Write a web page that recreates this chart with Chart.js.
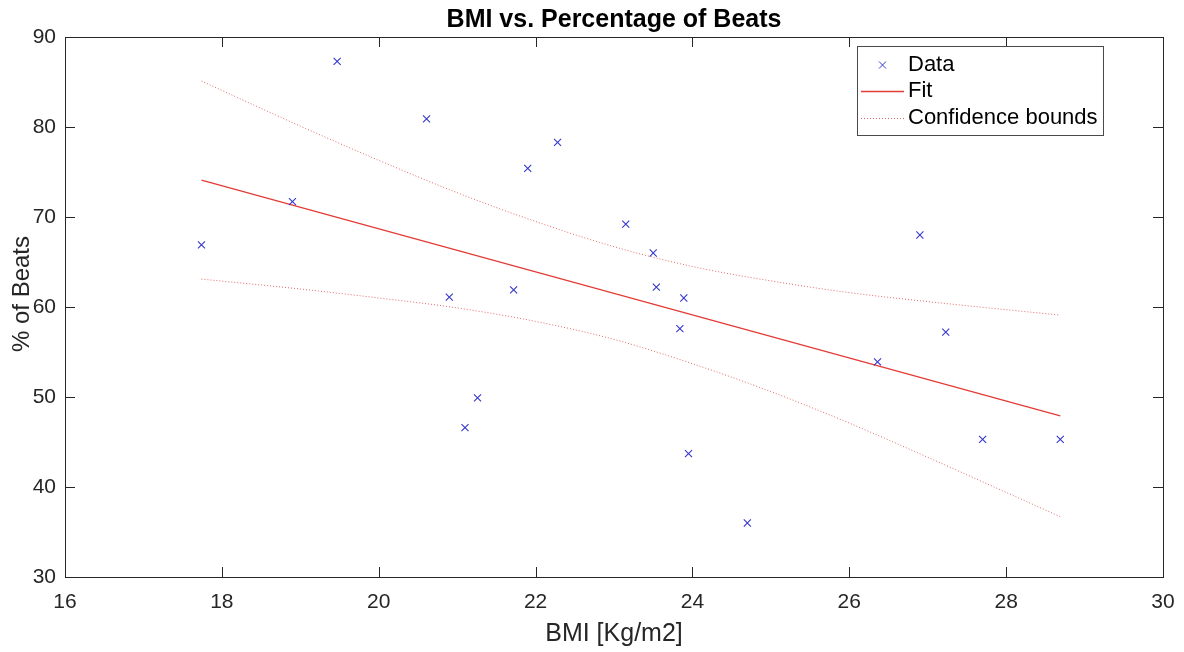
<!DOCTYPE html>
<html>
<head>
<meta charset="utf-8">
<title>BMI vs. Percentage of Beats</title>
<script src="https://cdn.jsdelivr.net/npm/chart.js@4.4.1/dist/chart.umd.min.js"></script>
<style>
  html, body { margin: 0; padding: 0; background: #ffffff; }
  #wrap { width: 1184px; height: 652px; }
</style>
</head>
<body>
<div id="wrap"><canvas id="bmiChart" width="1184" height="652"></canvas></div>
<script>
// measured samples
const bmi   = [17.74, 18.90, 19.47, 20.61, 20.90, 21.10, 21.26, 21.72, 21.90, 22.28, 23.15,
               23.50, 23.54, 23.84, 23.89, 23.95, 24.70, 26.36, 26.90, 27.23, 27.70, 28.69];
const beats = [66.9, 71.7, 87.3, 80.9, 61.1, 46.6, 49.9, 61.9, 75.4, 78.3, 69.2,
               66.0, 62.2, 57.6, 61.0, 43.7, 36.0, 53.9, 68.0, 57.2, 45.3, 45.3];

// linear fit end points
const fitX = [17.74, 28.69];
const fitY = [74.1, 47.9];

// confidence bounds around the fit
const boundX     = [17.74, 19, 20, 21, 22, 23, 24, 25, 26, 27, 28, 28.69];
const upperBound = [85.1, 80.1, 76.3, 72.7, 69.5, 66.7, 64.5, 62.9, 61.6, 60.6, 59.7, 59.1];
const lowerBound = [63.1, 62.0, 61.0, 59.9, 58.4, 56.4, 53.7, 50.6, 47.1, 43.3, 39.4, 36.7];

// axis ticks
const xTicks = [16, 18, 20, 22, 24, 26, 28, 30];
const yTicks = [30, 40, 50, 60, 70, 80, 90];

const FONT = "'Liberation Sans', Arial, Helvetica, sans-serif";
const AXIS_COLOR = '#262626';
const DATA_COLOR = '#3636d0';
const FIT_COLOR = '#e33b36';
const BOUND_COLOR = '#e06a66';
const Y_LABEL = '% of Beats';

function toPoints(xs, ys) {
  return xs.map(function (x, i) { return { x: x, y: ys[i] }; });
}

// box around the axes with inward tick marks on all four sides
const axesBox = {
  id: 'axesBox',
  afterDatasetsDraw(chart) {
    const ctx = chart.ctx;
    const a = chart.chartArea;
    const xs = chart.scales.x, ys = chart.scales.y;
    const len = 10;
    ctx.save();
    ctx.strokeStyle = AXIS_COLOR;
    ctx.lineWidth = 1;
    ctx.strokeRect(Math.round(a.left) + 0.5, Math.round(a.top) + 0.5,
                   Math.round(a.right - a.left), Math.round(a.bottom - a.top));
    ctx.beginPath();
    xTicks.forEach(function (v) {
      const px = Math.round(xs.getPixelForValue(v)) + 0.5;
      ctx.moveTo(px, a.bottom); ctx.lineTo(px, a.bottom - len);
      ctx.moveTo(px, a.top); ctx.lineTo(px, a.top + len);
    });
    yTicks.forEach(function (v) {
      const py = Math.round(ys.getPixelForValue(v)) + 0.5;
      ctx.moveTo(a.left, py); ctx.lineTo(a.left + len, py);
      ctx.moveTo(a.right, py); ctx.lineTo(a.right - len, py);
    });
    ctx.stroke();

    // y axis label, rotated, sitting a little above the axis middle
    ctx.fillStyle = AXIS_COLOR;
    ctx.font = '24px ' + FONT;
    ctx.textAlign = 'center';
    ctx.textBaseline = 'middle';
    ctx.translate(22, (a.top + a.bottom) / 2 - 13);
    ctx.rotate(-Math.PI / 2);
    ctx.fillText(Y_LABEL, 0, 0);
    ctx.restore();
  }
};

// legend box in the upper right corner
const legendBox = {
  id: 'legendBox',
  afterDraw(chart) {
    const ctx = chart.ctx;
    const a = chart.chartArea;
    const w = 246, h = 89;
    const bx = a.right - 60 - w, by = a.top + 9;
    const sampleL = bx + 4, sampleR = bx + 47, textX = bx + 51;
    const rows = [by + 19, by + 45, by + 72];
    const sets = chart.data.datasets;

    ctx.save();
    ctx.fillStyle = '#ffffff';
    ctx.fillRect(bx, by, w, h);
    ctx.strokeStyle = '#4a4a4a';
    ctx.lineWidth = 1;
    ctx.strokeRect(bx + 0.5, by + 0.5, w, h);

    // marker sample
    const mx = (sampleL + sampleR) / 2, r = 3.5;
    ctx.strokeStyle = sets[0].borderColor;
    ctx.beginPath();
    ctx.moveTo(mx - r, rows[0] - r); ctx.lineTo(mx + r, rows[0] + r);
    ctx.moveTo(mx - r, rows[0] + r); ctx.lineTo(mx + r, rows[0] - r);
    ctx.stroke();

    // fit line sample
    ctx.strokeStyle = sets[1].borderColor;
    ctx.lineWidth = sets[1].borderWidth;
    ctx.beginPath();
    ctx.moveTo(sampleL, rows[1] + 0.5); ctx.lineTo(sampleR, rows[1] + 0.5);
    ctx.stroke();

    // bounds sample
    ctx.strokeStyle = sets[2].borderColor;
    ctx.lineWidth = sets[2].borderWidth;
    ctx.setLineDash(sets[2].borderDash);
    ctx.beginPath();
    ctx.moveTo(sampleL, rows[2] + 0.5); ctx.lineTo(sampleR, rows[2] + 0.5);
    ctx.stroke();
    ctx.setLineDash([]);

    ctx.fillStyle = '#000000';
    ctx.font = '22px ' + FONT;
    ctx.textAlign = 'left';
    ctx.textBaseline = 'middle';
    ctx.fillText(sets[0].label, textX, rows[0]);
    ctx.fillText(sets[1].label, textX, rows[1]);
    ctx.fillText(sets[2].label, textX, rows[2]);
    ctx.restore();
  }
};

const chart = new Chart(document.getElementById('bmiChart'), {
  type: 'scatter',
  data: {
    datasets: [
      {
        label: 'Data',
        data: toPoints(bmi, beats),
        showLine: false,
        pointStyle: 'crossRot',
        pointRadius: 5,
        pointBorderWidth: 1.1,
        borderColor: DATA_COLOR,
        backgroundColor: DATA_COLOR
      },
      {
        label: 'Fit',
        data: toPoints(fitX, fitY),
        showLine: true,
        pointRadius: 0,
        borderColor: FIT_COLOR,
        borderWidth: 1.3
      },
      {
        label: 'Confidence bounds',
        data: toPoints(boundX, upperBound),
        showLine: true,
        pointRadius: 0,
        borderColor: BOUND_COLOR,
        borderWidth: 1,
        borderDash: [1, 2],
        cubicInterpolationMode: 'monotone'
      },
      {
        label: 'Confidence bounds (lower)',
        data: toPoints(boundX, lowerBound),
        showLine: true,
        pointRadius: 0,
        borderColor: BOUND_COLOR,
        borderWidth: 1,
        borderDash: [1, 2],
        cubicInterpolationMode: 'monotone'
      }
    ]
  },
  options: {
    responsive: false,
    animation: false,
    devicePixelRatio: 1,
    layout: { padding: { top: 0, right: 21, bottom: 0, left: 0 } },
    plugins: {
      legend: { display: false },
      tooltip: { enabled: false },
      title: {
        display: true,
        text: 'BMI vs. Percentage of Beats',
        fullSize: false,
        color: '#000000',
        font: { family: FONT, size: 25, weight: 'bold' },
        padding: { top: 5, bottom: 2 }
      }
    },
    scales: {
      x: {
        type: 'linear',
        min: 16,
        max: 30,
        afterFit: function (s) {
          s.height = 75;
          s.paddingLeft = 0;
          s.paddingRight = 0;
        },
        grid: { display: false, drawTicks: false },
        border: { display: false },
        ticks: {
          stepSize: 2,
          padding: 13,
          color: AXIS_COLOR,
          font: { family: FONT, size: 21 }
        },
        title: {
          display: true,
          text: 'BMI [Kg/m2]',
          color: AXIS_COLOR,
          font: { family: FONT, size: 25 },
          padding: { top: 0, bottom: 3 }
        }
      },
      y: {
        type: 'linear',
        min: 30,
        max: 90,
        afterFit: function (s) {
          s.width = 65;
          s.paddingTop = 0;
          s.paddingBottom = 0;
        },
        grid: { display: false, drawTicks: false },
        border: { display: false },
        ticks: {
          stepSize: 10,
          padding: 9,
          color: AXIS_COLOR,
          font: { family: FONT, size: 21 }
        },
        title: { display: false }
      }
    }
  },
  plugins: [axesBox, legendBox]
});
</script>
</body>
</html>
